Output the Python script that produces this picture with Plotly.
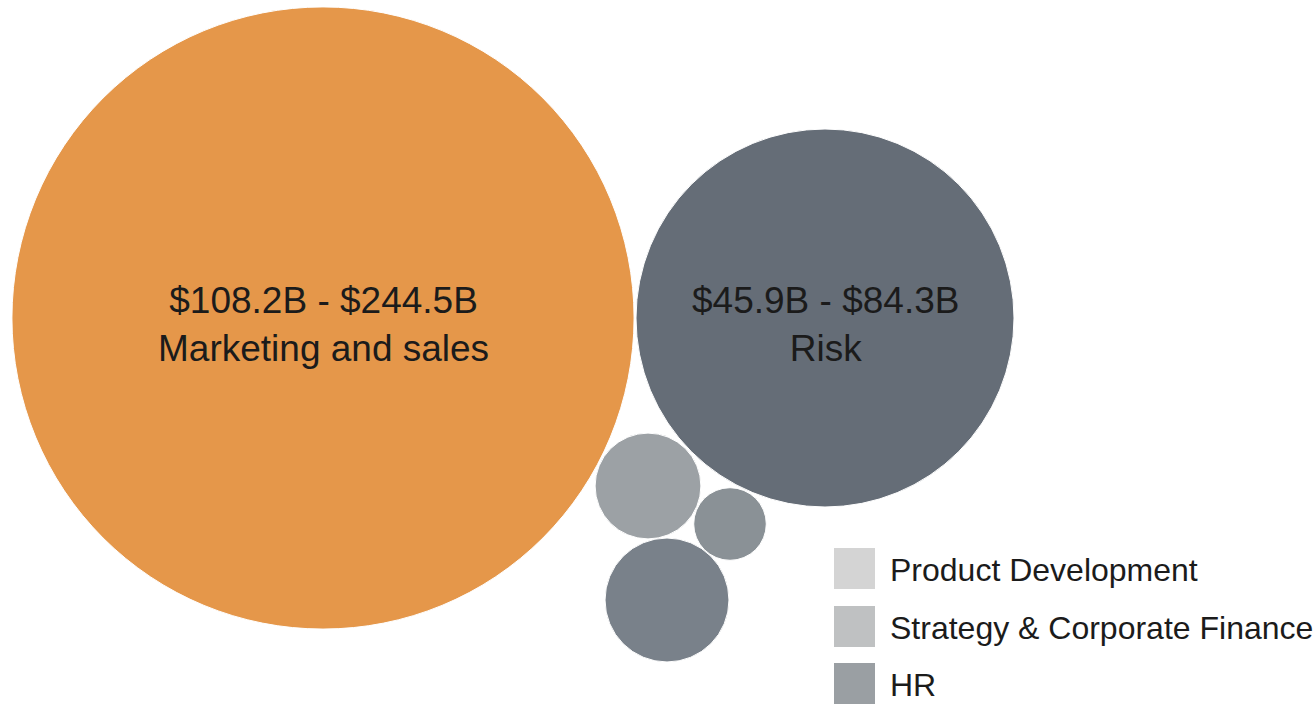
import plotly.graph_objects as go

# ---- data ----
bubble_labels = ["Marketing and sales", "Risk", "", "", ""]
bubble_ranges = ["$108.2B - $244.5B", "$45.9B - $84.3B", "", "", ""]
bubble_low = [108.2, 45.9, 3.5, 1.6, 4.8]
bubble_high = [244.5, 84.3, 6.7, 3.2, 9.2]
bubble_colors = ["#E5974A", "#656D77", "#9CA1A5", "#8A9196", "#79818A"]
# packed-layout centres (layout units)
bubble_x = [323, 825, 648, 730, 667]
bubble_y = [318, 318, 486, 524, 600]

legend_labels = ["Product Development", "Strategy & Corporate Finance", "HR"]
legend_colors = ["#D4D4D4", "#BFC1C2", "#9A9FA3"]

# ---- figure ----
W, H = 1314, 704
values = [(lo + hi) / 2 for lo, hi in zip(bubble_low, bubble_high)]
risk_diam = 378.0
sizeref = 2.0 * values[1] / risk_diam ** 2

fig = go.Figure()
fig.add_trace(go.Scatter(
    x=bubble_x, y=bubble_y,
    mode="markers",
    marker=dict(size=values, sizemode="area", sizeref=sizeref,
                color=bubble_colors, opacity=1,
                line=dict(color="white", width=1)),
    hoverinfo="skip",
    showlegend=False,
))

annotations = []
for bx, by, r, l in zip(bubble_x, bubble_y, bubble_ranges, bubble_labels):
    if not l:
        continue
    annotations.append(dict(x=bx, y=by, xref="x", yref="y", text=f"{r}<br>{l}",
                            showarrow=False, xanchor="center", yanchor="middle", yshift=-6,
                            font=dict(family="Liberation Sans, Arial, sans-serif",
                                      size=37, color="#1b1b1b")))

shapes = []
sq = 41
x0 = 834
y_tops = [548, 606, 663]
for lab, col, yt in zip(legend_labels, legend_colors, y_tops):
    shapes.append(dict(type="rect", xref="x", yref="y",
                       x0=x0, x1=x0 + sq, y0=yt, y1=yt + sq,
                       fillcolor=col, line=dict(width=0), layer="below"))
    annotations.append(dict(x=888, y=yt + sq / 2 + 1, xref="x", yref="y",
                            text=lab, showarrow=False, xanchor="left", yanchor="middle",
                            font=dict(family="Liberation Sans, Arial, sans-serif",
                                      size=32, color="#1b1b1b")))

fig.update_layout(
    width=W, height=H,
    margin=dict(l=0, r=0, t=0, b=0),
    paper_bgcolor="white", plot_bgcolor="white",
    xaxis=dict(range=[0, W], visible=False, fixedrange=True),
    yaxis=dict(range=[H, 0], visible=False, fixedrange=True),
    shapes=shapes, annotations=annotations,
)

fig.write_html("out.html", config={"displayModeBar": False},
               post_script="document.body.style.margin='0';document.body.style.overflow='hidden';")
